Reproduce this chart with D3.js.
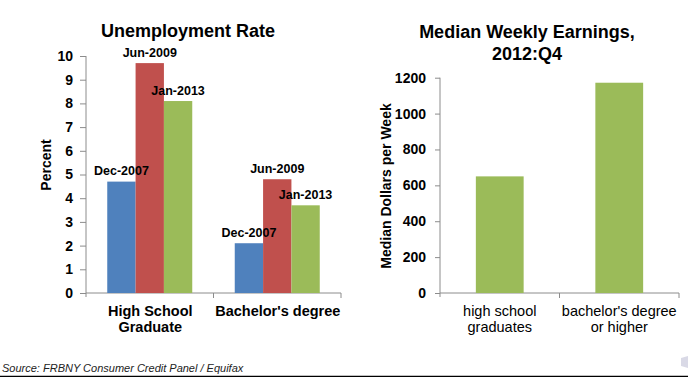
<!DOCTYPE html>
<html>
<head>
<meta charset="utf-8">
<script src="https://cdn.jsdelivr.net/npm/d3@7"></script>
<style>
  body { margin: 0; background: #fff; }
  svg { display: block; font-family: Arial, "Liberation Sans", sans-serif; }
</style>
</head>
<body>
<svg id="chart" width="688" height="377"></svg>
<script>
// unemployment rate, percent
var groups = ["High School Graduate", "Bachelor's degree"];
var groupLines = [["High School", "Graduate"], ["Bachelor's degree"]];
var periods = ["Dec-2007", "Jun-2009", "Jan-2013"];
var hsRate = [4.7, 9.7, 8.1];
var baRate = [2.1, 4.8, 3.7];
var rateTicks = [0, 1, 2, 3, 4, 5, 6, 7, 8, 9, 10];

// median weekly earnings, 2012:Q4
var eduCats = ["high school graduates", "bachelor's degree or higher"];
var eduLines = [["high school", "graduates"], ["bachelor's degree", "or higher"]];
var earnings = [650, 1172];
var earnTicks = [0, 200, 400, 600, 800, 1000, 1200];

var colors = ["#4f81bd", "#c0504d", "#9bbb59"];
var axisGrey = "#8c8c8c";

var svg = d3.select("#chart");

//----- left: unemployment rate
var left = svg.append("g");

var x0 = d3.scaleBand().domain(groups).range([86, 341]);
var x1 = d3.scaleBand().domain(periods).range([0, x0.bandwidth()])
    .paddingInner(0).paddingOuter(0.75);
var yL = d3.scaleLinear().domain([0, 10]).range([293, 56]);

var rateData = [hsRate, baRate];

left.append("text")
    .attr("x", 188).attr("y", 37)
    .attr("text-anchor", "middle")
    .style("font-size", "18px").style("font-weight", "bold")
    .text("Unemployment Rate");

var yAxisL = d3.axisLeft(yL).tickValues(rateTicks).tickSize(6).tickSizeOuter(0).tickPadding(7);
var gyL = left.append("g").attr("transform", "translate(86,0)").call(yAxisL);
gyL.select(".domain").attr("stroke", axisGrey).attr("d", "M0,56V297");
gyL.selectAll(".tick line").attr("stroke", axisGrey);
gyL.selectAll(".tick text")
    .style("font-size", "14px").style("font-weight", "bold").attr("fill", "#000");

// x axis line + boundary ticks
left.append("line")
    .attr("x1", 86).attr("x2", x0.range()[1])
    .attr("y1", yL(0)).attr("y2", yL(0))
    .attr("stroke", axisGrey);
left.selectAll(".xtick")
    .data(groups.slice(1).map(function(g){ return x0(g); }).concat([x0.range()[1]]))
    .enter().append("line")
    .attr("x1", function(d){ return d; }).attr("x2", function(d){ return d; })
    .attr("y1", yL(0)).attr("y2", yL(0) + 5)
    .attr("stroke", axisGrey);

var grp = left.selectAll(".grp")
    .data(rateData)
    .enter().append("g")
    .attr("transform", function(d, i){ return "translate(" + x0(groups[i]) + ",0)"; });

grp.selectAll("rect")
    .data(function(d){ return d; })
    .enter().append("rect")
    .attr("x", function(d, i){ return x1(periods[i]); })
    .attr("y", function(d){ return yL(d); })
    .attr("width", x1.bandwidth())
    .attr("height", function(d){ return yL(0) - yL(d); })
    .attr("fill", function(d, i){ return colors[i]; });

grp.selectAll(".lbl")
    .data(function(d){ return d; })
    .enter().append("text")
    .attr("x", function(d, i){ return x1(periods[i]) + x1.bandwidth() / 2; })
    .attr("y", function(d){ return yL(d) - 6.5; })
    .attr("text-anchor", "middle")
    .style("font-size", "12.5px").style("font-weight", "bold")
    .text(function(d, i){ return periods[i]; });

left.selectAll(".cat")
    .data(groupLines)
    .enter().append("text")
    .attr("text-anchor", "middle")
    .style("font-size", "14.5px").style("font-weight", "bold")
    .attr("transform", function(d, i){ return "translate(" + (x0(groups[i]) + x0.bandwidth() / 2 + 0.5) + ",316)"; })
    .selectAll("tspan")
    .data(function(d){ return d; })
    .enter().append("tspan")
    .attr("x", 0).attr("y", function(d, i){ return i * 16; })
    .text(function(d){ return d; });

left.append("text")
    .attr("transform", "translate(51,165) rotate(-90)")
    .attr("text-anchor", "middle")
    .style("font-size", "14px").style("font-weight", "bold")
    .text("Percent");

//----- right: median weekly earnings
var right = svg.append("g");

var xR = d3.scaleBand().domain(eduCats).range([440, 679]);
var yR = d3.scaleLinear().domain([0, 1200]).range([293, 77.7]);
var barW = xR.bandwidth() * 0.4;

var title = right.append("text")
    .attr("text-anchor", "middle")
    .style("font-size", "18px").style("font-weight", "bold");
title.append("tspan").attr("x", 527).attr("y", 38).text("Median Weekly Earnings,");
title.append("tspan").attr("x", 527).attr("y", 60).text("2012:Q4");

var yAxisR = d3.axisLeft(yR).tickValues(earnTicks).tickFormat(d3.format("d"))
    .tickSize(5).tickSizeOuter(0).tickPadding(9);
var gyR = right.append("g").attr("transform", "translate(440,0)").call(yAxisR);
gyR.select(".domain").attr("stroke", axisGrey).attr("d", "M0,77.7V297");
gyR.selectAll(".tick line").attr("stroke", axisGrey);
gyR.selectAll(".tick text")
    .style("font-size", "14px").style("font-weight", "bold").attr("fill", "#000");

right.append("line")
    .attr("x1", 440).attr("x2", xR.range()[1])
    .attr("y1", yR(0)).attr("y2", yR(0))
    .attr("stroke", axisGrey);
right.selectAll(".xtick")
    .data(eduCats.slice(1).map(function(c){ return xR(c); }).concat([xR.range()[1]]))
    .enter().append("line")
    .attr("x1", function(d){ return d; }).attr("x2", function(d){ return d; })
    .attr("y1", yR(0)).attr("y2", yR(0) + 5)
    .attr("stroke", axisGrey);

right.selectAll(".bar")
    .data(earnings)
    .enter().append("rect")
    .attr("x", function(d, i){ return xR(eduCats[i]) + (xR.bandwidth() - barW) / 2; })
    .attr("y", function(d){ return yR(d); })
    .attr("width", barW)
    .attr("height", function(d){ return yR(0) - yR(d); })
    .attr("fill", colors[2]);

right.selectAll(".cat")
    .data(eduLines)
    .enter().append("text")
    .attr("text-anchor", "middle")
    .style("font-size", "14.5px")
    .attr("transform", function(d, i){ return "translate(" + (xR(eduCats[i]) + xR.bandwidth() / 2) + ",316)"; })
    .selectAll("tspan")
    .data(function(d){ return d; })
    .enter().append("tspan")
    .attr("x", 0).attr("y", function(d, i){ return i * 16; })
    .text(function(d){ return d; });

right.append("text")
    .attr("transform", "translate(391,186) rotate(-90)")
    .attr("text-anchor", "middle")
    .style("font-size", "14px").style("font-weight", "bold")
    .text("Median Dollars per Week");

//----- footer
svg.append("text")
    .attr("x", 2).attr("y", 372)
    .style("font-size", "11px").style("font-style", "italic")
    .attr("fill", "#222")
    .text("Source: FRBNY Consumer Credit Panel / Equifax");

// faint page-curl mark at lower right
svg.append("path")
    .attr("d", "M681,358 L688,356 L688,368 L681,366 Z")
    .attr("fill", "#d9d9e6");

svg.append("line")
    .attr("x1", 0).attr("x2", 688)
    .attr("y1", 376.5).attr("y2", 376.5)
    .attr("stroke", "#000").attr("stroke-width", 1.5);
</script>
</body>
</html>
